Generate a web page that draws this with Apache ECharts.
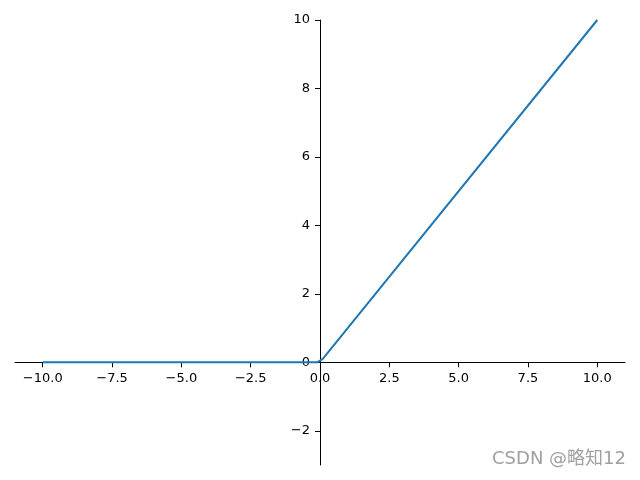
<!DOCTYPE html>
<html>
<head>
<meta charset="utf-8">
<script src="https://cdn.jsdelivr.net/npm/echarts@6/dist/echarts.min.js"></script>
<style>
  html, body { margin: 0; padding: 0; background: #fff; }
  #chart { width: 640px; height: 480px; }
</style>
</head>
<body>
<div id="chart"></div>
<script>
const xValues = [-10, -0.1, 0.1, 10]
const yValues = [0, 0, 0.1, 10]
const xTicks = [-10, -7.5, -5, -2.5, 0, 2.5, 5, 7.5, 10]
const yTicks = [-2, 0, 2, 4, 6, 8, 10]

const W = 640, H = 480
const grid = { left: 15, right: 15, top: 20, bottom: 15 }
const xMin = -11, xMax = 11, yMin = -3, yMax = 10

// move the axes to cross at the origin (spines at zero)
const gw = W - grid.left - grid.right
const gh = H - grid.top - grid.bottom
const xOffset = -(0 - yMin) / (yMax - yMin) * gh
const yOffset = -(0 - xMin) / (xMax - xMin) * gw

const minus = s => String(s).replace('-', '\u2212')

const chart = echarts.init(document.getElementById('chart'))
const options = {
  animation: false,
  grid: Object.assign({ outerBoundsMode: 'none', containLabel: false }, grid),
  xAxis: {
    type: 'value',
    position: 'bottom',
    offset: xOffset,
    min: xMin,
    max: xMax,
    splitLine: { show: false },
    axisLine: { onZero: false, lineStyle: { color: '#000', width: 1 } },
    axisTick: { customValues: xTicks, length: 5, lineStyle: { color: '#000' } },
    axisLabel: {
      customValues: xTicks,
      color: '#000',
      fontSize: 13,
      fontFamily: 'DejaVu Sans',
      margin: 10,
      formatter: v => minus(v.toFixed(1))
    }
  },
  yAxis: {
    type: 'value',
    position: 'left',
    offset: yOffset,
    min: yMin,
    max: yMax,
    splitLine: { show: false },
    axisLine: { show: true, onZero: false, lineStyle: { color: '#000', width: 1 } },
    axisTick: { show: true, customValues: yTicks, length: 5, lineStyle: { color: '#000' } },
    axisLabel: {
      customValues: yTicks,
      color: '#000',
      fontSize: 13,
      fontFamily: 'DejaVu Sans',
      margin: 10,
      formatter: v => minus(v)
    }
  },
  series: [{
    type: 'line',
    data: xValues.map((x, i) => [x, yValues[i]]),
    showSymbol: false,
    lineStyle: { color: '#1f77b4', width: 2 },
    z: 3
  }],
  graphic: [{
    type: 'text',
    right: 14,
    top: 450,
    style: {
      text: 'CSDN @略知12',
      fill: '#a0a0a0',
      fontSize: 18,
      fontFamily: 'DejaVu Sans, Noto Sans CJK SC'
    }
  }]
}
chart.setOption(options)
</script>
</body>
</html>
